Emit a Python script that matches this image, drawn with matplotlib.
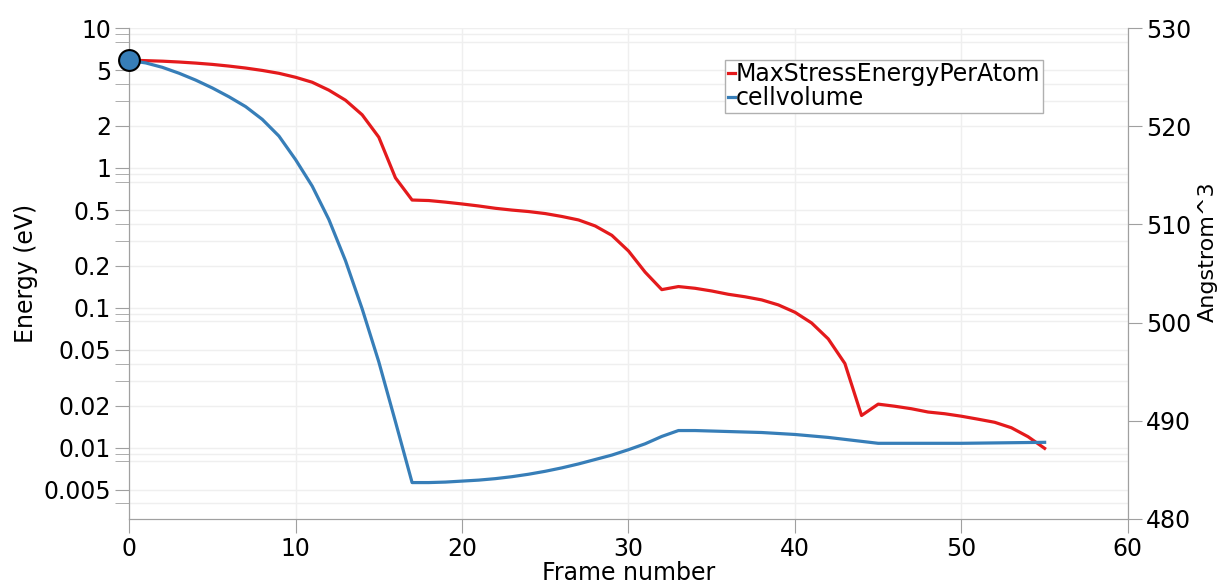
import numpy as np
import matplotlib
matplotlib.use("Agg")
import matplotlib.pyplot as plt
from matplotlib.ticker import FixedLocator, LogLocator, NullFormatter, FuncFormatter

# frame index for both series
frames = list(range(56))

# MaxStressEnergyPerAtom (eV, log axis on the left)
max_stress = [5.9, 5.85, 5.8, 5.72, 5.62, 5.5, 5.35, 5.18, 4.98, 4.75,
              4.45, 4.1, 3.6, 3.05, 2.4, 1.66, 0.85, 0.59, 0.585, 0.57,
              0.553, 0.535, 0.515, 0.5, 0.488, 0.472, 0.45, 0.425, 0.385, 0.33,
              0.255, 0.18, 0.135, 0.142, 0.138, 0.132, 0.125, 0.12, 0.114, 0.105,
              0.093, 0.078, 0.06, 0.04, 0.017, 0.0205, 0.0198, 0.019, 0.018, 0.0175,
              0.0168, 0.016, 0.0152, 0.0139, 0.012, 0.0099]

# cellvolume (Angstrom^3, linear axis on the right)
cell_volume = [526.7, 526.45, 526.0, 525.4, 524.7, 523.9, 523.0, 522.0, 520.7, 519.0,
               516.6, 513.9, 510.5, 506.3, 501.4, 496.0, 489.9, 483.7, 483.7, 483.75,
               483.85, 483.95, 484.1, 484.3, 484.55, 484.85, 485.2, 485.6, 486.05, 486.5,
               487.05, 487.65, 488.4, 489.0, 489.0, 488.95, 488.9, 488.85, 488.8, 488.7,
               488.6, 488.45, 488.3, 488.1, 487.9, 487.7, 487.7, 487.7, 487.7, 487.7,
               487.7, 487.72, 487.74, 487.76, 487.78, 487.8]

energy_ticks = [10, 5, 2, 1, 0.5, 0.2, 0.1, 0.05, 0.02, 0.01, 0.005]
volume_ticks = [480, 490, 500, 510, 520, 530]
frame_ticks = [0, 10, 20, 30, 40, 50, 60]

red = "#e41a1c"
blue = "#377eb8"
spine_gray = "#a0a0a0"
grid_gray = "#efefef"
fs = 17

plt.rcParams["font.family"] = ["DejaVu Sans"]

fig = plt.figure(figsize=(12.18, 5.85), dpi=100)
ax = fig.add_axes([0.106, 0.113, 0.82, 0.839])
ax2 = ax.twinx()

l1, = ax.plot(frames, max_stress, color=red, lw=2.3, label="MaxStressEnergyPerAtom")
l2, = ax2.plot(frames, cell_volume, color=blue, lw=2.3, label="cellvolume")
ax2.plot(frames[0], cell_volume[0], "o", ms=15, mfc=blue, mec="black", mew=1.5,
         clip_on=False, zorder=5)

ax.set_yscale("log")
ax.set_ylim(0.0031, 10)
ax.set_xlim(0, 60)
ax2.set_ylim(480, 530)

ax.yaxis.set_major_locator(FixedLocator(energy_ticks))
ax.yaxis.set_major_formatter(FuncFormatter(lambda v, p: f"{v:g}"))
ax.yaxis.set_minor_locator(LogLocator(base=10, subs=(3, 4, 8, 9)))
ax.yaxis.set_minor_formatter(NullFormatter())
ax.set_xticks(frame_ticks)
ax2.set_yticks(volume_ticks)

ax.grid(True, which="both", color=grid_gray, lw=1)
ax.set_axisbelow(True)

for a in (ax, ax2):
    a.spines["top"].set_visible(False)
    for s in ("left", "right", "bottom"):
        a.spines[s].set_color(spine_gray)
    a.tick_params(which="both", colors=spine_gray, labelcolor="black",
                  labelsize=fs, length=10, pad=3)

ax.set_xlabel("Frame number", fontsize=fs, labelpad=0)
ax.set_ylabel("Energy (eV)", fontsize=fs, labelpad=4)
ax2.set_ylabel("Angstrom^3", fontsize=16)
ax2.yaxis.set_label_coords(1.0705, 0.545)

leg = ax2.legend([l1, l2], [l1.get_label(), l2.get_label()],
                 loc="upper left", bbox_to_anchor=(0.597, 0.935),
                 fontsize=fs, handlelength=0.3, handletextpad=0.05,
                 borderpad=0.1, labelspacing=0.0, fancybox=False,
                 framealpha=1, borderaxespad=0)
leg.get_frame().set_edgecolor("#b0b0b0")

fig.savefig("out.png", dpi=100)
